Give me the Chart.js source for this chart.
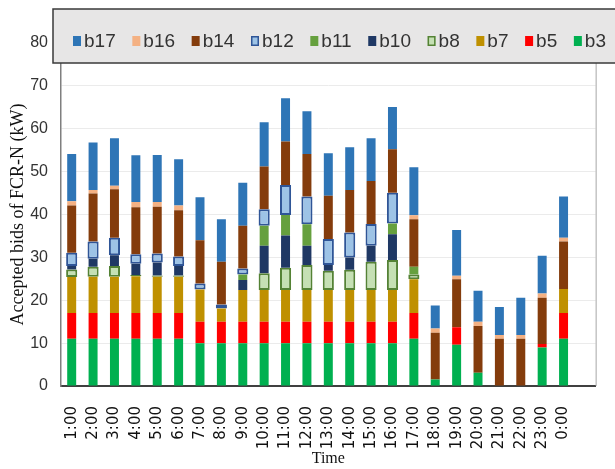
<!DOCTYPE html>
<html>
<head>
<meta charset="utf-8">
<script src="https://cdn.jsdelivr.net/npm/chart.js@4.4.1/dist/chart.umd.min.js"></script>
<style>
  html, body { margin: 0; padding: 0; background: #fff; }
  #wrap { width: 615px; height: 469px; }
</style>
</head>
<body>
<div id="wrap"><canvas id="chart"></canvas></div>
<script>
// hours of the day (last slot is an empty category, as in the original sheet)
const hours = ['1:00','2:00','3:00','4:00','5:00','6:00','7:00','8:00','9:00','10:00','11:00','12:00',
               '13:00','14:00','15:00','16:00','17:00','18:00','19:00','20:00','21:00','22:00','23:00','0:00',''];
const yTicks = [0, 10, 20, 30, 40, 50, 60, 70, 80];

// accepted bids per bidder (kW), bottom of the stack first
const b3  = [11, 11, 11, 11, 11, 11, 10, 10, 10, 10, 10, 10, 10, 10, 10, 10, 11, 1.5, 9.6, 3.1, 0, 0, 9, 11];
const b5  = [6, 6, 6, 6, 6, 6, 5, 5, 5, 5, 5, 5, 5, 5, 5, 5, 6, 0, 4.1, 0, 0, 0, 0.8, 6];
const b7  = [8.4, 8.5, 8.5, 8.6, 8.5, 8.5, 7.5, 3.1, 7.4, 7.4, 7.4, 7.4, 7.4, 7.4, 7.4, 7.4, 7.9, 0, 0, 0, 0, 0, 0, 5.6];
const b8  = [1.8, 2.3, 2.5, 0.3, 0.3, 0.3, 0, 0, 0, 3.9, 5.2, 5.8, 4.5, 4.7, 6.6, 7.0, 1.1, 0, 0, 0, 0, 0, 0, 0];
const b10 = [0.8, 1.9, 2.5, 2.6, 3.0, 2.2, 0, 0, 2.3, 6.4, 7.5, 4.5, 1.3, 2.9, 3.7, 6.0, 0, 0, 0, 0, 0, 0, 0, 0];
const b11 = [0, 0, 0, 0, 0, 0, 0, 0, 1.3, 4.7, 4.8, 5.0, 0, 0, 0, 2.5, 1.8, 0, 0, 0, 0, 0, 0, 0];
const b12 = [3.1, 4.0, 4.1, 2.2, 2.1, 2.2, 1.4, 0.9, 1.4, 3.8, 7.0, 6.5, 6.1, 5.8, 5.1, 7.2, 0, 0, 0, 0, 0, 0, 0, 0];
const b14 = [11, 11.2, 11.3, 11, 10.9, 10.8, 10.1, 10, 10, 10, 10.1, 9.9, 10.1, 9.9, 10, 10.1, 11.1, 10.9, 11.2, 10.9, 11, 11, 10.8, 11.1];
const b16 = [1, 0.8, 0.8, 1.2, 1.1, 1.1, 0, 0, 0, 0, 0, 0, 0, 0, 0, 0, 0.9, 1.0, 0.8, 1.0, 0.9, 0.9, 1.0, 0.9];
const b17 = [11, 11.1, 11.1, 10.9, 11, 10.8, 10, 9.9, 10, 10.3, 10.1, 10, 9.9, 10, 10, 9.9, 11.2, 5.4, 10.7, 7.2, 6.5, 8.7, 8.8, 9.6];

const seriesNames = ['b3', 'b5', 'b7', 'b8', 'b10', 'b11', 'b12', 'b14', 'b16', 'b17'];
const seriesData  = [b3, b5, b7, b8, b10, b11, b12, b14, b16, b17];

// look of each series; outlined ones get a dark edge
const fills   = ['#00b050', '#ff0000', '#bf9000', '#c5e0b4', '#1f3864', '#66a03e', '#9dc3e6', '#843c0c', '#f4b183', '#2e75b6'];
const edges   = [null, null, null, '#548235', null, null, '#2f5597', null, null, null];

const datasets = seriesNames.map((name, i) => ({
  label: name,
  data: seriesData[i],
  backgroundColor: fills[i],
  borderColor: edges[i] || fills[i],
  borderWidth: edges[i] ? 2 : 0,
  borderSkipped: false,
  barPercentage: edges[i] ? 0.52 : 0.42,
  categoryPercentage: 1.0
}));

// legend box laid over the top of the plot, plus the right frame line
const legendBox = {
  id: 'legendBox',
  afterDraw(chart) {
    const { ctx, chartArea: a } = chart;
    ctx.save();
    ctx.strokeStyle = '#a6a6a6'; ctx.lineWidth = 1;
    ctx.beginPath(); ctx.moveTo(a.right + 0.5, a.top); ctx.lineTo(a.right + 0.5, a.bottom); ctx.stroke();

    ctx.fillStyle = '#e7e6e6';
    ctx.fillRect(53, 9, 575, 54);
    ctx.strokeStyle = '#3a3a3a'; ctx.lineWidth = 1.5;
    ctx.strokeRect(53, 9, 575, 54);

    ctx.font = '19px "Liberation Sans", sans-serif';
    ctx.textBaseline = 'middle';
    const order = seriesNames.map((n, i) => i).reverse();
    const used = order.reduce((s, i) => s + 11 + ctx.measureText(seriesNames[i]).width, 0);
    const gap = (606 - 73 - used) / (order.length - 1);
    let x = 73;
    const cy = 41;
    order.forEach(i => {
      ctx.fillStyle = fills[i];
      ctx.fillRect(x, cy - 5, 8, 10);
      if (edges[i]) {
        ctx.strokeStyle = edges[i]; ctx.lineWidth = 1.5;
        ctx.strokeRect(x + 0.75, cy - 4.25, 6.5, 8.5);
      }
      ctx.fillStyle = '#333';
      ctx.fillText(seriesNames[i], x + 11, cy + 1);
      x += 11 + ctx.measureText(seriesNames[i]).width + gap;
    });
    ctx.restore();
  }
};

new Chart(document.getElementById('chart'), {
  type: 'bar',
  data: { labels: hours, datasets },
  plugins: [legendBox],
  options: {
    responsive: true,
    maintainAspectRatio: false,
    animation: false,
    layout: { padding: { top: 43, right: 3, left: 0, bottom: 0 } },
    plugins: { legend: { display: false }, tooltip: { enabled: false } },
    scales: {
      x: {
        stacked: true,
        grid: { display: false },
        border: { display: true, color: '#404040', width: 2 },
        ticks: {
          autoSkip: false, minRotation: 90, maxRotation: 90, padding: 12,
          color: '#111',
          font: { family: '"DejaVu Sans", sans-serif', size: 15 }
        },
        title: {
          display: true, text: 'Time', color: '#111',
          font: { family: '"Liberation Serif", serif', size: 16 },
          padding: { top: 0, bottom: 1 }
        },
        afterFit(s) { s.height = 83; }
      },
      y: {
        stacked: true,
        min: 0, max: 80,
        afterBuildTicks(s) { s.ticks = yTicks.map(v => ({ value: v })); },
        grid: { color: '#ebebeb', lineWidth: 1, drawTicks: false },
        border: { display: true, color: '#7f7f7f', width: 1.5 },
        ticks: {
          padding: 13, color: '#333',
          font: { family: '"Liberation Sans", sans-serif', size: 16 }
        },
        title: {
          display: true, text: 'Accepted bids of FCR-N (kW)', color: '#111',
          font: { family: '"Liberation Serif", serif', size: 18 },
          padding: { top: 7, bottom: 0 }
        },
        afterFit(s) { s.width = 61; }
      }
    }
  }
});
</script>
</body>
</html>
